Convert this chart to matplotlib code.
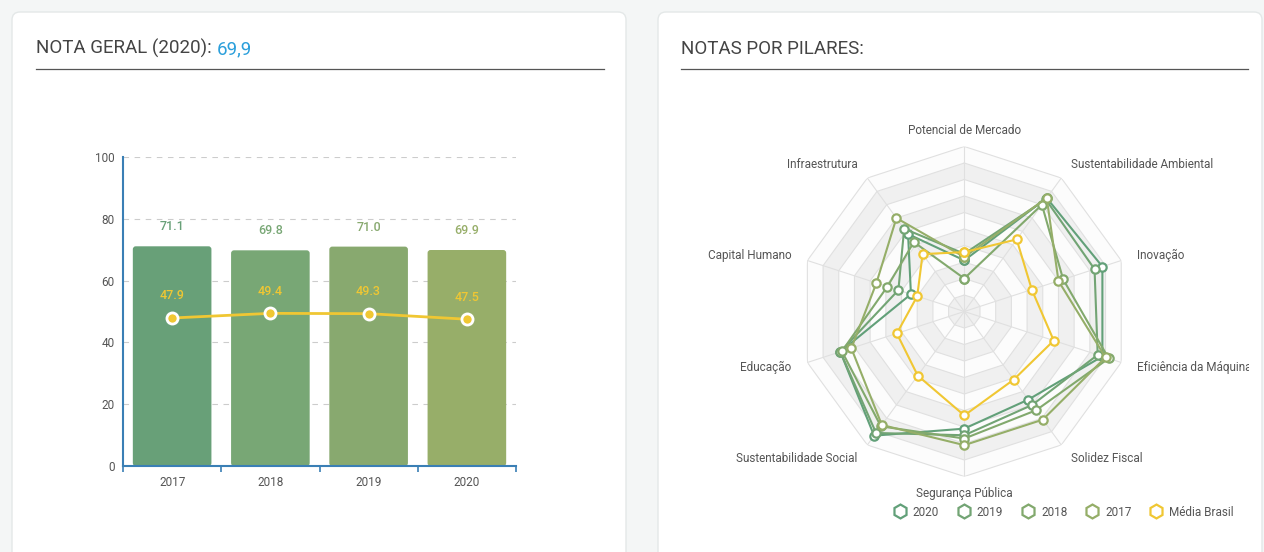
import numpy as np
import matplotlib
matplotlib.use("Agg")
import matplotlib.pyplot as plt
from matplotlib.patches import FancyBboxPatch
from matplotlib.lines import Line2D
from matplotlib.transforms import Bbox, TransformedBbox

plt.rcParams["font.family"] = ["Roboto", "DejaVu Sans"]

# nota geral (barras) e media Brasil (linha)
anos = ["2017", "2018", "2019", "2020"]
nota_geral = [71.1, 69.8, 71.0, 69.9]
media_brasil = [47.9, 49.4, 49.3, 47.5]
cores_barras = ["#68a078", "#78a775", "#88a96f", "#97ae69"]
amarelo = "#f0c733"

# notas por pilares (radar)
pilares = ["Potencial de Mercado", "Sustentabilidade Ambiental", "Inovação",
           "Eficiência da Máquina", "Solidez Fiscal", "Segurança Pública",
           "Sustentabilidade Social", "Educação", "Capital Humano", "Infraestrutura"]
notas_2020 = [31, 85, 88, 88, 66, 71, 93, 79, 34, 58]
notas_2019 = [35, 84, 83, 85, 70, 75, 91, 79, 42, 62]
notas_2018 = [20, 80, 63, 92, 74, 77, 86, 78, 49, 52]
notas_2017 = [33, 85, 60, 90, 81, 81, 85, 72, 56, 70]
notas_media = [36, 54, 43, 57, 51, 63, 48, 43, 30, 43]
series_nomes = ["2020", "2019", "2018", "2017", "Média Brasil"]
series_cores = ["#62a079", "#72a474", "#82a96d", "#95ae68", amarelo]

W, H = 1264, 552
fig = plt.figure(figsize=(W / 100, H / 100), dpi=100, facecolor="#f4f6f6")

# fundo: cartoes, titulos, legenda
bg = fig.add_axes([0, 0, 1, 1], zorder=0)
bg.set_xlim(0, W)
bg.set_ylim(H, 0)
bg.axis("off")
for x0, x1 in [(12, 626), (658, 1262)]:
    bg.add_patch(FancyBboxPatch((x0, 12), x1 - x0, 570,
                                boxstyle="round,pad=0,rounding_size=8",
                                fc="white", ec="#e4e8e8", lw=1))

t = bg.text(36, 54, "NOTA GERAL (2020): ", fontsize=13.5, color="#444444", va="baseline")
bg.annotate(f"{nota_geral[-1]:.1f}".replace(".", ","), xy=(1, 54), xycoords=(t, "data"),
            fontsize=13.5, color="#2b9fdb", va="baseline")
bg.text(681, 54, "NOTAS POR PILARES:", fontsize=13.5, color="#444444", va="baseline")
bg.plot([36, 604], [69, 69], color="#555555", lw=0.9)
bg.plot([681, 1248], [69, 69], color="#555555", lw=0.9)

# grafico de barras
ax = fig.add_axes([123 / W, 1 - 466 / H, 393 / W, 309 / H], zorder=2)
ax.patch.set_alpha(0)
x = np.arange(len(anos))
ax.set_xlim(-0.5, 3.5)
ax.set_ylim(0, 100)
for xi, v, c in zip(x, nota_geral, cores_barras):
    ax.add_patch(FancyBboxPatch((xi - 0.4, 0), 0.8, v,
                                boxstyle="round,pad=0,rounding_size=0.03",
                                mutation_aspect=31.8, fc=c, ec="none", zorder=2))
    ax.annotate(f"{v:.1f}", (xi, v), xytext=(0, 14), textcoords="offset points",
                ha="center", va="center", color=c, fontsize=9, fontweight="medium")

ax.plot(x, media_brasil, color=amarelo, lw=2, marker="o", ms=8,
        mfc=amarelo, mec="white", mew=2, zorder=4)
for xi, v in zip(x, media_brasil):
    ax.annotate(f"{v:.1f}", (xi, v), xytext=(0, 16), textcoords="offset points",
                ha="center", va="center", color=amarelo, fontsize=9, fontweight="medium")

ax.set_yticks(range(0, 101, 20))
ax.yaxis.grid(True, ls=(0, (5, 5)), color="#cccccc", lw=0.8)
ax.set_axisbelow(True)
for s in ["top", "right"]:
    ax.spines[s].set_visible(False)
for s in ["left", "bottom"]:
    ax.spines[s].set_color("#3a7fb5")
    ax.spines[s].set_linewidth(1.5)
ax.set_xticks(x, anos)
ax.set_xticks(np.arange(-0.5, 4, 1), minor=True)
ax.tick_params(axis="x", which="major", length=0, pad=7, labelsize=8.5, labelcolor="#555555")
ax.tick_params(axis="x", which="minor", length=4, color="#3a7fb5", width=1.2)
ax.tick_params(axis="y", length=0, pad=6, labelsize=8.5, labelcolor="#555555")

# radar
cx, cy, R = 964.3, 311.5, 165
rax = fig.add_axes([(cx - R) / W, 1 - (cy + R) / H, 2 * R / W, 2 * R / H],
                   projection="polar", zorder=2)
rax.set_theta_offset(np.pi / 2)
rax.set_theta_direction(-1)
rax.set_ylim(0, 100)
rax.axis("off")

ang = np.linspace(0, 2 * np.pi, len(pilares), endpoint=False)
ang_c = np.append(ang, ang[0])
niveis = np.arange(10, 101, 10)
for i, r in enumerate(niveis):
    fc = "#f0f0f0" if i % 2 == 0 else "#fcfcfc"
    rax.fill(np.concatenate([ang_c, ang_c[::-1]]),
             np.concatenate([np.full(len(ang_c), r), np.full(len(ang_c), r - 10)]),
             color=fc, lw=0, zorder=1)
    rax.plot(ang_c, np.full(len(ang_c), r), color="#e0e0e0", lw=0.8, zorder=2)
for a in ang:
    rax.plot([a, a], [0, 100], color="#e0e0e0", lw=0.8, zorder=2)

todas = [notas_2020, notas_2019, notas_2018, notas_2017, notas_media]
for vals, c in zip(todas, series_cores):
    rax.plot(ang_c, vals + vals[:1], color=c, lw=1.5, marker="o", ms=6,
             mfc="white", mec=c, mew=1.6, zorder=3, clip_on=False)

clip = TransformedBbox(Bbox([[0, 0], [1249 / W, 1]]), fig.transFigure)
for a, nome in zip(ang, pilares):
    s = np.sin(a)
    ha = "center" if abs(s) < 0.01 else ("left" if s > 0 else "right")
    lt = rax.text(a, 110, nome, ha=ha, va="center", fontsize=8.5, color="#555555")
    lt.set_clip_on(True)
    lt.set_clip_box(clip)

handles = [Line2D([], [], ls="none", marker="h", ms=10, mfc="white", mec=c, mew=1.6)
           for c in series_cores]
bg.legend(handles, series_nomes, loc="center", bbox_to_anchor=(1064, 512),
          bbox_transform=bg.transData, ncol=5, frameon=False, fontsize=8.5,
          handlelength=1.0, handletextpad=0.6, columnspacing=1.6, labelcolor="#555555")

fig.savefig("out.png", dpi=100, facecolor=fig.get_facecolor())
